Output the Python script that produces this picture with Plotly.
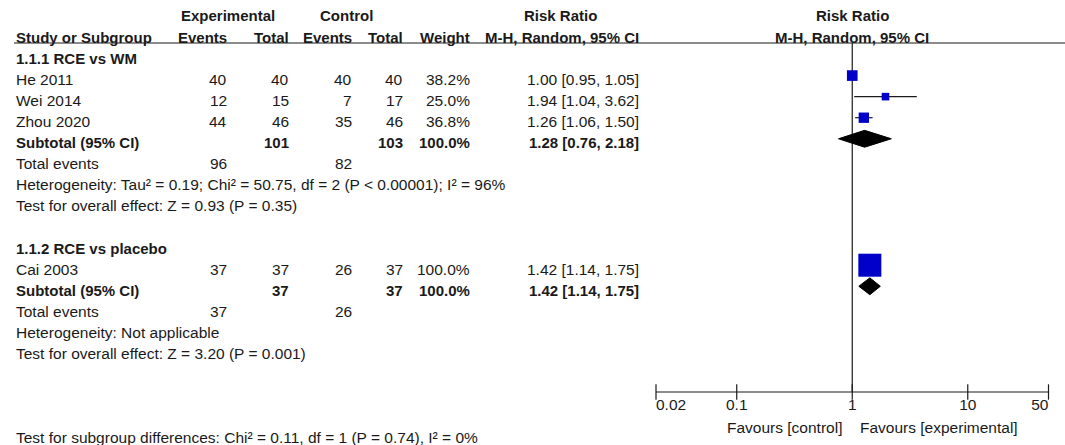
import numpy as np
import plotly.graph_objects as go

# --- data ---
groups = ["1.1.1 RCE vs WM", "1.1.2 RCE vs placebo"]
studies = ["He 2011", "Wei 2014", "Zhou 2020", "Cai 2003"]
study_group = [0, 0, 0, 1]
exp_events = [40, 12, 44, 37]
exp_total = [40, 15, 46, 37]
ctrl_events = [40, 7, 35, 26]
ctrl_total = [40, 17, 46, 37]
weights = [38.2, 25.0, 36.8, 100.0]
rr = [1.00, 1.94, 1.26, 1.42]
rr_low = [0.95, 1.04, 1.06, 1.14]
rr_high = [1.05, 3.62, 1.50, 1.75]

sub_exp_total = [101, 37]
sub_ctrl_total = [103, 37]
sub_weight = [100.0, 100.0]
sub_rr = [1.28, 1.42]
sub_low = [0.76, 1.14]
sub_high = [2.18, 1.75]
events_exp = [96, 37]
events_ctrl = [82, 26]
heterogeneity = [
    "Heterogeneity: Tau² = 0.19; Chi² = 50.75, df = 2 (P < 0.00001); I² = 96%",
    "Heterogeneity: Not applicable",
]
overall_effect = [
    "Test for overall effect: Z = 0.93 (P = 0.35)",
    "Test for overall effect: Z = 3.20 (P = 0.001)",
]
subgroup_test = "Test for subgroup differences: Chi² = 0.11, df = 1 (P = 0.74), I² = 0%"

tick_vals = [0.02, 0.1, 1, 10, 50]
tick_text = ["0.02", "0.1", "1", "10", "50"]

# --- layout constants (pixels) ---
W, H = 1065, 445
ROW0, ROW_H = 58.5, 21.07
FONT = "Liberation Sans, Arial, sans-serif"
FS = 15.5      # regular text
FS_B = 15      # bold text
INK = "#1a1a1a"
BLUE = "#0000c8"
MARK_DY = -4 / ROW_H   # marks sit a few px above the text centre


def px_row(py):
    return (py - ROW0) / ROW_H


def px_x(px):
    return px / W


# columns: right edges in px
COL_LEFT = 15
COL_EXP_EV, COL_EXP_TOT = 228, 290
COL_CTL_EV, COL_CTL_TOT = 353, 404
COL_WEIGHT, COL_RR = 471, 640

fig = go.Figure()


def txt(x_px, row, text, anchor="right", bold=False):
    if bold:
        text = f"<b>{text}</b>"
    fig.add_annotation(
        x=px_x(x_px), y=row, xref="paper", yref="y", text=text,
        xanchor=anchor, yanchor="middle", showarrow=False, borderpad=0,
        font=dict(family=FONT, size=FS_B if bold else FS, color=INK),
    )


# header
H1, H2 = px_row(15), px_row(37)
txt(228, H1, "Experimental", anchor="center", bold=True)
txt(347, H1, "Control", anchor="center", bold=True)
txt(560, H1, "Risk Ratio", anchor="center", bold=True)
txt(COL_LEFT, H2, "Study or Subgroup", anchor="left", bold=True)
txt(COL_EXP_EV, H2, "Events", bold=True)
txt(COL_EXP_TOT, H2, "Total", bold=True)
txt(COL_CTL_EV, H2, "Events", bold=True)
txt(COL_CTL_TOT, H2, "Total", bold=True)
txt(COL_WEIGHT, H2, "Weight", bold=True)
txt(COL_RR, H2, "M-H, Random, 95% CI", bold=True)
for hrow, label in [(H1, "Risk Ratio"), (H2, "M-H, Random, 95% CI")]:
    fig.add_annotation(x=0, y=hrow, xref="x", yref="y", text=f"<b>{label}</b>",
                       xanchor="center", yanchor="middle", showarrow=False, borderpad=0,
                       font=dict(family=FONT, size=FS_B, color=INK))

HEADER_LINE = px_row(43)
fig.add_shape(type="line", xref="paper", yref="y", x0=px_x(14), x1=1,
              y0=HEADER_LINE, y1=HEADER_LINE, line=dict(color=INK, width=1.2))

# table body
study_rows, sub_rows = [], []
row = 0
for g, name in enumerate(groups):
    txt(COL_LEFT, row, name, anchor="left", bold=True)
    row += 1
    for i, s in enumerate(studies):
        if study_group[i] != g:
            continue
        txt(COL_LEFT, row, s, anchor="left")
        txt(COL_EXP_EV, row, str(exp_events[i]))
        txt(COL_EXP_TOT, row, str(exp_total[i]))
        txt(COL_CTL_EV, row, str(ctrl_events[i]))
        txt(COL_CTL_TOT, row, str(ctrl_total[i]))
        txt(COL_WEIGHT, row, f"{weights[i]:.1f}%")
        txt(COL_RR, row, f"{rr[i]:.2f} [{rr_low[i]:.2f}, {rr_high[i]:.2f}]")
        study_rows.append(row)
        row += 1
    txt(COL_LEFT, row, "Subtotal (95% CI)", anchor="left", bold=True)
    txt(COL_EXP_TOT, row, str(sub_exp_total[g]), bold=True)
    txt(COL_CTL_TOT, row, str(sub_ctrl_total[g]), bold=True)
    txt(COL_WEIGHT, row, f"{sub_weight[g]:.1f}%", bold=True)
    txt(COL_RR, row, f"{sub_rr[g]:.2f} [{sub_low[g]:.2f}, {sub_high[g]:.2f}]", bold=True)
    sub_rows.append(row)
    row += 1
    txt(COL_LEFT, row, "Total events", anchor="left")
    txt(COL_EXP_EV, row, str(events_exp[g]))
    txt(COL_CTL_EV, row, str(events_ctrl[g]))
    row += 1
    txt(COL_LEFT, row, heterogeneity[g], anchor="left")
    row += 1
    txt(COL_LEFT, row, overall_effect[g], anchor="left")
    row += 2

txt(COL_LEFT, row + 2, subgroup_test, anchor="left")

# --- forest plot marks ---
AXIS_ROW = px_row(392)
mark_rows = [r + MARK_DY for r in study_rows]
dia_rows = [r + MARK_DY for r in sub_rows]

# line of no effect
fig.add_trace(go.Scatter(x=[1, 1], y=[HEADER_LINE, AXIS_ROW], mode="lines",
                         line=dict(color=INK, width=1.2), hoverinfo="skip"))

# confidence intervals
ci_x, ci_y = [], []
for i, r in enumerate(mark_rows):
    ci_x += [rr_low[i], rr_high[i], None]
    ci_y += [r, r, None]
fig.add_trace(go.Scatter(x=ci_x, y=ci_y, mode="lines",
                         line=dict(color=INK, width=1.2), hoverinfo="skip"))

# weighted squares
sizes = [23 * (w / 100) ** 0.8 for w in weights]
fig.add_trace(go.Scatter(
    x=rr, y=mark_rows, mode="markers",
    marker=dict(symbol="square", size=sizes, color=BLUE, opacity=1, line=dict(width=0)),
    hovertext=studies,
))

# subtotal diamonds
for g, r in enumerate(dia_rows):
    fig.add_trace(go.Scatter(
        x=[sub_low[g], sub_rr[g], sub_high[g], sub_rr[g], sub_low[g]],
        y=[r, r - 0.4, r, r + 0.4, r],
        mode="lines", fill="toself", fillcolor="black",
        line=dict(color="black", width=1), hoverinfo="skip",
    ))

# x axis drawn by hand: line, crossing ticks, labels (end labels pulled inward)
fig.add_trace(go.Scatter(x=[tick_vals[0], tick_vals[-1]], y=[AXIS_ROW, AXIS_ROW],
                         mode="lines", line=dict(color=INK, width=1.2), hoverinfo="skip",
                         cliponaxis=False))
fig.add_trace(go.Scatter(x=tick_vals, y=[AXIS_ROW] * len(tick_vals), mode="markers",
                         marker=dict(symbol="line-ns", size=11, line=dict(color=INK, width=1.2)),
                         hoverinfo="skip", cliponaxis=False))
label_pos = ["middle right"] + ["middle center"] * (len(tick_vals) - 2) + ["middle left"]
fig.add_trace(go.Scatter(x=tick_vals, y=[px_row(406)] * len(tick_vals), mode="text",
                         text=tick_text, textposition=label_pos,
                         textfont=dict(family=FONT, size=FS, color=INK),
                         hoverinfo="skip", cliponaxis=False))

for label, anchor, shift in [("Favours [control]", "right", -9), ("Favours [experimental]", "left", 7)]:
    fig.add_annotation(x=0, y=px_row(427), xref="x", yref="y", text=label,
                       xanchor=anchor, yanchor="middle", xshift=shift, showarrow=False, borderpad=0,
                       font=dict(family=FONT, size=FS, color=INK))

fig.update_layout(
    width=W, height=H,
    margin=dict(l=0, r=0, t=0, b=0),
    paper_bgcolor="white", plot_bgcolor="white",
    showlegend=False,
    xaxis=dict(type="log", range=[np.log10(0.02), np.log10(50)],
               domain=[656 / W, 1048.5 / W], visible=False),
    yaxis=dict(range=[px_row(H), px_row(0)], domain=[0, 1], visible=False),
)

fig.write_html("out.html", config={"displayModeBar": False},
               post_script="document.body.style.margin='0';")
